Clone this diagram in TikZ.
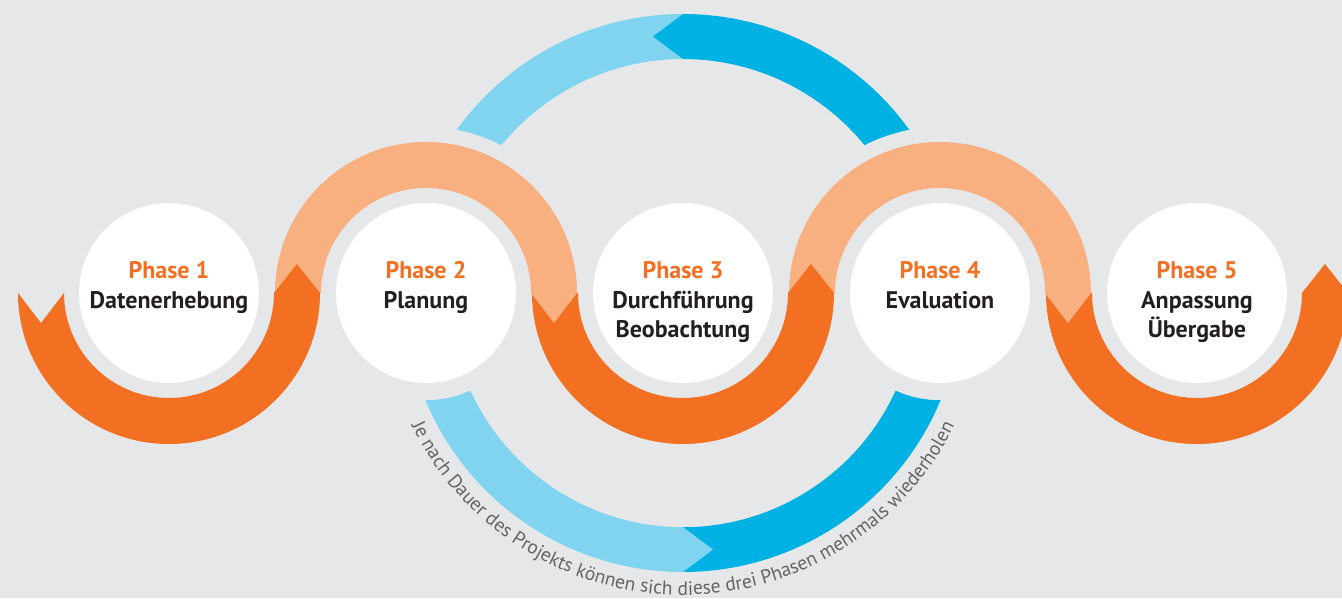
\documentclass[tikz,border=0pt]{standalone}
\usepackage{fontspec}
\setmainfont{PT Sans}
\newfontfamily\capfont{PT Sans}
\usetikzlibrary{decorations.text}
\definecolor{bg}{HTML}{E6E7E8}
\definecolor{dorange}{HTML}{F36F21}
\definecolor{lorange}{HTML}{F8B080}
\definecolor{dblue}{HTML}{00B2E3}
\definecolor{lblue}{HTML}{80D4F0}
\definecolor{ink}{HTML}{231F20}
\definecolor{capgray}{HTML}{636466}
\begin{document}
\begin{tikzpicture}[x=1pt,y=1pt,
  phasecirc/.style={circle, fill=white, minimum size=180pt, inner sep=0pt},
  headtxt/.style={anchor=base, font=\bfseries\fontsize{24}{28}\selectfont, text=dorange, inner sep=0pt},
  nametxt/.style={anchor=base, font=\bfseries\fontsize{24}{28}\selectfont, text=ink, inner sep=0pt},
  lowband/.style={fill=dorange}, upband/.style={fill=lorange},
  darkarc/.style={fill=dblue}, lightarc/.style={fill=lblue}]
\useasboundingbox (0,0) rectangle (1342,598);
\fill[bg] (0,0) rectangle (1342,598);
\clip (0,0) rectangle (1342,598);

% orange bands
\fill[lowband] (18,305) -- (41,275) -- (64,305) arc[start angle=180,end angle=360,radius=105pt]
  -- (320,305) arc[start angle=0,end angle=-180,radius=151pt] -- cycle;
\foreach \cx in {683,1197}{
  \fill[lowband] ({\cx-151},305) arc[start angle=180,end angle=360,radius=151pt]
    -- ({\cx+105},305) arc[start angle=0,end angle=-180,radius=105pt] -- cycle;
}
\foreach \cx in {426,940}{
  \fill[upband] ({\cx-151},305) arc[start angle=180,end angle=0,radius=151pt]
    -- ({\cx+105},305) arc[start angle=0,end angle=180,radius=105pt] -- cycle;
}
% arrow tips
\foreach \cx in {169,683,1197}{
  \fill[lowband] ({\cx+105},305) -- ({\cx+128},334) -- ({\cx+151},305) -- cycle;
}
\foreach \cx in {426,940}{
  \fill[upband] ({\cx+105},305) -- ({\cx+128},275) -- ({\cx+151},305) -- cycle;
}

% blue top arc
\fill[lightarc] (683,584) arc[start angle=90,end angle=144.2,radius=279pt]
  arc[start angle=79.3,end angle=62.9,radius=166pt]
  arc[start angle=140.8,end angle=90,radius=234pt] -- cycle;
\fill[darkarc] (683,584) arc[start angle=90,end angle=35.8,radius=279pt]
  arc[start angle=100.7,end angle=117.1,radius=166pt]
  arc[start angle=39.2,end angle=90,radius=234pt] -- (653,561.5) -- cycle;
% blue bottom arc
\fill[darkarc] (683,26) arc[start angle=270,end angle=337.4,radius=279pt]
  arc[start angle=270.4,end angle=245.6,radius=107pt]
  arc[start angle=335.4,end angle=270,radius=234pt] -- cycle;
\fill[lightarc] (683,26) arc[start angle=270,end angle=202.6,radius=279pt]
  arc[start angle=269.6,end angle=294.4,radius=107pt]
  arc[start angle=204.6,end angle=270,radius=234pt] -- (713,48.5) -- cycle;

% circles
\node[phasecirc] (c1) at (169,305) {};
\node[phasecirc] (c2) at (426,305) {};
\node[phasecirc] (c3) at (683,305) {};
\node[phasecirc] (c4) at (940,305) {};
\node[phasecirc] (c5) at (1197,305) {};

% labels
\node[headtxt] (h1) at (169,319) {Phase 1};
\node[nametxt] (n1) at (169,289.5) {Datenerhebung};
\node[headtxt] (h2) at (426,319) {Phase 2};
\node[nametxt] (n2) at (426,289.5) {Planung};
\node[headtxt] (h3) at (683,319) {Phase 3};
\node[nametxt] (n3a) at (683,289.5) {Durchführung};
\node[nametxt] (n3b) at (683,260) {Beobachtung};
\node[headtxt] (h4) at (940,319) {Phase 4};
\node[nametxt] (n4) at (940,289.5) {Evaluation};
\node[headtxt] (h5) at (1197,319) {Phase 5};
\node[nametxt] (n5a) at (1197,289.5) {Anpassung};
\node[nametxt] (n5b) at (1197,260) {Übergabe};

% curved caption
\path[decorate, decoration={text along path, text align=center, text color=capgray,
  text={|\capfont\fontsize{19.5}{23}\selectfont|Je nach Dauer des Projekts können sich diese drei Phasen mehrmals wiederholen}}]
  (683,305) ++(200:302pt) arc[start angle=200,end angle=340,radius=302pt];
\end{tikzpicture}
\end{document}
